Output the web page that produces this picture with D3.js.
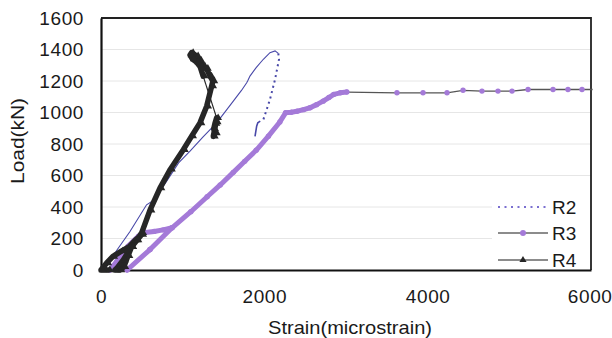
<!DOCTYPE html>
<meta charset="utf-8">
<style>
body {
    margin: 0;
    padding: 0;
    background: #fff;
}
text {
    font-family: "Liberation Sans", Arial, sans-serif;
    fill: #1a1a1a;
}
</style>
<body>
<svg width="612" height="338"></svg>
<script src="https://d3js.org/d3.v7.min.js"></script>
<script>
// axis ticks
var xTicks = [0, 2000, 4000, 6000];
var yTicks = [0, 200, 400, 600, 800, 1000, 1200, 1400, 1600];

// R2 - rising part (solid) and falling tail (dotted)
var r2Strain = [0, 100, 200, 355, 558, 637, 800, 950, 1090, 1250, 1416, 1620, 1720, 1784, 1800, 1824, 1900, 1988, 2069, 2131, 2171];
var r2Load   = [0, 50, 130, 244, 414, 440, 560, 680, 754, 845, 934, 1072, 1140, 1189, 1205, 1231, 1285, 1338, 1380, 1391, 1375];
var r2TailStrain = [2171, 2180, 2131, 2069, 1988];
var r2TailLoad   = [1375, 1338, 1210, 1083, 955];
var r2HookStrain = [1950, 1920, 1906, 1886];
var r2HookLoad   = [945, 935, 913, 849];

// R3 - densely sampled rise, then sparse plateau
var r3Strain = [110, 200, 330, 460, 540, 650, 760, 870, 600, 320, 600, 870, 1100, 1300, 1460, 1620, 1760, 1900, 2050, 2190, 2260, 2330, 2400, 2480, 2560, 2640, 2720, 2790, 2850, 2930, 3010];
var r3Load   = [0, 60, 150, 215, 238, 245, 255, 268, 130, 0, 130, 268, 370, 465, 540, 620, 690, 760, 850, 940, 998, 1002, 1008, 1018, 1030, 1050, 1072, 1095, 1115, 1125, 1130];
var r3PlateauStrain = [3010, 3624, 3943, 4237, 4433, 4665, 4861, 5033, 5229, 5535, 5718, 5890, 6020];
var r3PlateauLoad   = [1130, 1125, 1125, 1125, 1141, 1136, 1136, 1136, 1146, 1146, 1146, 1146, 1146];

// R4 - main band, then the unloading blob
var r4Strain = [90, 0, 70, 143, 250, 346, 420, 498, 375, 273, 200, 171, 230, 280, 330, 375, 440, 498, 600, 722, 850, 1008, 1110, 1212, 1294, 1355, 1370, 1335, 1290, 1253, 1210, 1171, 1110, 1090, 1120, 1170, 1215, 1251];
var r4Load   = [0, 0, 45, 85, 120, 148, 190, 225, 148, 64, 15, 0, 0, 20, 90, 148, 190, 236, 380, 520, 640, 764, 850, 934, 1040, 1168, 1200, 1231, 1280, 1295, 1330, 1359, 1380, 1365, 1340, 1320, 1290, 1231];
var r4TailStrain = [1416, 1395, 1380, 1400, 1375, 1410];
var r4TailLoad   = [966, 930, 895, 870, 849, 940];

var legendNames = ["R2", "R3", "R4"];

var purple = "#a47ad8",
    blue = "#4848a8",
    dark = "#262626";

var svg = d3.select("svg");

var x = d3.scaleLinear().domain([0, 6000]).range([101, 591]);
var y = d3.scaleLinear().domain([0, 1600]).range([270, 18]);

function pts(xs, ys) {
    return xs.map(function(v, i) { return [v, ys[i]]; });
}

var line = d3.line()
    .x(function(d) { return x(d[0]); })
    .y(function(d) { return y(d[1]); });

// faint gridlines
svg.append("g")
    .selectAll("line")
    .data(yTicks.slice(1, -1))
    .enter().append("line")
      .attr("x1", x(0)).attr("x2", x(6000))
      .attr("y1", function(d) { return y(d); })
      .attr("y2", function(d) { return y(d); })
      .attr("stroke", "#e6e6e6")
      .attr("stroke-width", 1);

// frame
svg.append("path")
    .attr("d", "M" + x(0) + "," + y(1600) + "H" + x(6000) + "V" + y(0))
    .attr("fill", "none")
    .attr("stroke", "#222")
    .attr("stroke-width", 1.8);

// axes (no tick marks)
var yAxis = svg.append("g")
    .attr("transform", "translate(" + x(0) + ",0)")
    .call(d3.axisLeft(y).tickValues(yTicks).tickFormat(d3.format("d")).tickSize(0).tickPadding(17));
var xAxis = svg.append("g")
    .attr("transform", "translate(0," + y(0) + ")")
    .call(d3.axisBottom(x).tickValues(xTicks).tickFormat(d3.format("d")).tickSize(0).tickPadding(20));
[yAxis, xAxis].forEach(function(a) {
    a.select(".domain").attr("stroke", "#111").attr("stroke-width", 2.2);
    a.selectAll("text")
        .attr("font-family", "'Liberation Sans', Arial, sans-serif")
        .attr("font-size", 19)
        .attr("letter-spacing", 0.6)
        .attr("fill", "#1a1a1a");
});
xAxis.selectAll("text").filter(function(d) { return d === 6000; })
    .attr("text-anchor", "end").attr("x", 612 - x(6000));

// axis titles
svg.append("text")
    .attr("x", 350).attr("y", 334)
    .attr("text-anchor", "middle")
    .attr("font-size", 18.5)
    .attr("textLength", 164)
    .attr("lengthAdjust", "spacingAndGlyphs")
    .text("Strain(microstrain)");
svg.append("text")
    .attr("transform", "translate(24,141) rotate(-90)")
    .attr("text-anchor", "middle")
    .attr("font-size", 18.5)
    .attr("textLength", 86)
    .attr("lengthAdjust", "spacingAndGlyphs")
    .text("Load(kN)");

// R3
var r3 = pts(r3Strain, r3Load),
    r3p = pts(r3PlateauStrain, r3PlateauLoad);
svg.append("path").attr("d", line(r3p))
    .attr("fill", "none").attr("stroke", "#555").attr("stroke-width", 1.3);
svg.append("path").attr("d", line(r3))
    .attr("fill", "none").attr("stroke", purple).attr("stroke-width", 5)
    .attr("stroke-linejoin", "round").attr("stroke-linecap", "round");
svg.append("g").selectAll("circle")
    .data(r3.concat(r3p.slice(1, -1)))
    .enter().append("circle")
      .attr("cx", function(d) { return x(d[0]); })
      .attr("cy", function(d) { return y(d[1]); })
      .attr("r", 2.7)
      .attr("fill", purple);

// R2
svg.append("path").attr("d", line(pts(r2Strain, r2Load)))
    .attr("fill", "none").attr("stroke", blue).attr("stroke-width", 1.1);
svg.append("path").attr("d", line(pts(r2TailStrain, r2TailLoad)))
    .attr("fill", "none").attr("stroke", blue).attr("stroke-width", 2)
    .attr("stroke-dasharray", "2,3.5");
svg.append("path").attr("d", line(pts(r2HookStrain, r2HookLoad)))
    .attr("fill", "none").attr("stroke", blue).attr("stroke-width", 1.6);

// R4
var r4 = pts(r4Strain, r4Load),
    r4t = pts(r4TailStrain, r4TailLoad);
svg.append("path").attr("d", line([r4[r4.length - 1], r4t[0]]))
    .attr("fill", "none").attr("stroke", dark).attr("stroke-width", 1.2);
[r4, r4t].forEach(function(p) {
    svg.append("path").attr("d", line(p))
        .attr("fill", "none").attr("stroke", dark).attr("stroke-width", 5.5)
        .attr("stroke-linejoin", "round").attr("stroke-linecap", "round");
});
var tri = d3.symbol().type(d3.symbolTriangle).size(26);
svg.append("g").selectAll("path")
    .data(r4.concat(r4t))
    .enter().append("path")
      .attr("d", tri)
      .attr("transform", function(d) { return "translate(" + (x(d[0]) + 1.5) + "," + y(d[1]) + ")"; })
      .attr("fill", dark);

// legend
var leg = svg.append("g");
leg.append("rect")
    .attr("x", 492).attr("y", 192).attr("width", 98).attr("height", 77)
    .attr("fill", "#fff");
var rowY = [207, 233, 260];
legendNames.forEach(function(name, i) {
    var g = leg.append("g").attr("transform", "translate(0," + rowY[i] + ")");
    var l = g.append("line")
        .attr("x1", 498).attr("x2", 548).attr("y1", 0).attr("y2", 0);
    if (i === 0) {
        l.attr("stroke", "#7a6fd0").attr("stroke-width", 2).attr("stroke-dasharray", "2,4.5");
    } else {
        l.attr("stroke", "#666").attr("stroke-width", 1.3);
    }
    if (i === 1) {
        g.append("circle").attr("cx", 523).attr("cy", 0).attr("r", 3).attr("fill", purple);
    }
    if (i === 2) {
        g.append("path").attr("d", d3.symbol().type(d3.symbolTriangle).size(22))
            .attr("transform", "translate(523,0)").attr("fill", dark);
    }
    g.append("text")
        .attr("x", 552).attr("y", 7)
        .attr("font-size", 19)
        .text(name);
});
</script>
</body>
